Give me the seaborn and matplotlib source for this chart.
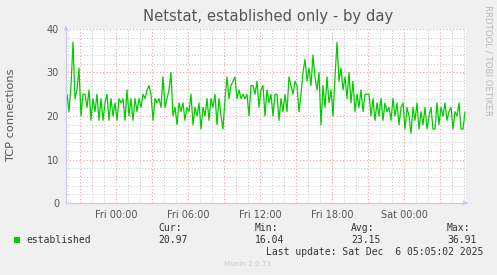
import numpy as np
import pandas as pd
import matplotlib
matplotlib.use("Agg")
import matplotlib.pyplot as plt
import matplotlib.dates as mdates
import seaborn as sns

# ---- data ----
start_time = "2025-12-04 19:55"
step_minutes = 10
established = [
    25, 21, 27, 37, 24, 26, 31, 20, 25, 25,
    22, 26, 19, 24, 21, 25, 19, 24, 19, 23,
    25, 19, 24, 20, 23, 19, 24, 23, 24, 19,
    26, 20, 24, 19, 24, 21, 24, 22, 25, 24,
    26, 27, 25, 19, 24, 23, 24, 22, 29, 22,
    24, 26, 30, 20, 22, 18, 23, 21, 23, 19,
    22, 21, 25, 18, 22, 20, 23, 17, 22, 20,
    24, 19, 24, 22, 25, 18, 24, 20, 17, 24,
    29, 24, 27, 28, 29, 24, 26, 24, 25, 24,
    25, 20, 27, 27, 25, 28, 22, 26, 27, 20,
    26, 23, 25, 20, 25, 25, 19, 24, 21, 25,
    21, 29, 27, 25, 28, 27, 21, 25, 30, 33,
    28, 31, 27, 34, 29, 26, 30, 18, 27, 22,
    29, 23, 26, 20, 29, 36.9, 28, 31, 26, 29,
    24, 30, 23, 28, 21, 25, 22, 26, 21, 25,
    25, 25, 20, 24, 19, 23, 20, 24, 19, 23,
    21, 22, 19, 24, 20, 23, 18, 22, 23, 17,
    22, 20, 16.04, 22, 19, 23, 17, 21, 18, 22,
    17, 20, 22, 17, 17, 23, 18, 22, 20, 23,
    19, 21, 22, 17, 21, 20, 23, 17, 17, 20.97,
]
series_label = "established"
title_text = "Netstat, established only - by day"
ylabel_text = "TCP connections"
stat_names = ["Cur:", "Min:", "Avg:", "Max:"]
stat_values = ["20.97", "16.04", "23.15", "36.91"]
last_update = "Last update: Sat Dec  6 05:05:02 2025"
footer = "Munin 2.0.73"
side_text = "RRDTOOL / TOBI OETIKER"

times = pd.date_range(start=start_time, periods=len(established), freq=f"{step_minutes}min")
df = pd.DataFrame({"time": times, "value": established})

sns.set_style("white")
plt.rcParams["font.family"] = ["DejaVu Sans"]

W, H = 497, 275
fig = plt.figure(figsize=(W / 100, H / 100), dpi=100, facecolor="#F0F0F0")
L, R, T, B = 66, 466, 29, 203
ax = fig.add_axes([L / W, 1 - B / H, (R - L) / W, (B - T) / H])
ax.set_facecolor("white")

sns.lineplot(data=df, x="time", y="value", ax=ax, color="#00CC00", linewidth=0.9)

x0 = pd.Timestamp("2025-12-04 19:50")
x1 = pd.Timestamp("2025-12-06 05:10")
ax.set_xlim(x0, x1)
ax.set_ylim(0, 40)

# grids
ax.xaxis.set_minor_locator(mdates.HourLocator())
ax.set_yticks(np.arange(0, 41, 2), minor=True)
ax.grid(which="minor", color="#c4c4c4", linestyle=(0, (1, 2)), linewidth=0.7)
ax.grid(which="major", color="#f0a0a0", linestyle=(0, (1, 2)), linewidth=0.8)
ax.set_axisbelow(True)

tick_times = pd.date_range("2025-12-04 21:00", "2025-12-06 03:00", freq="3h")
lbls = [t.strftime("%a %H:%M") if t.hour % 6 == 0 else "" for t in tick_times]
ax.set_xticks(mdates.date2num(tick_times))
ax.set_xticklabels(lbls)
ax.set_yticks([0, 10, 20, 30, 40])
ax.set_yticklabels(["0", "10", "20", "30", "40"])
ax.tick_params(axis="x", which="major", length=2, color="#f08080", labelsize=7, labelcolor="#555555", pad=3)
ax.tick_params(axis="x", which="minor", length=2, color="#bbbbbb")
ax.tick_params(axis="y", which="major", length=2, color="#f08080", labelsize=7, labelcolor="#555555", pad=3)
ax.tick_params(axis="y", which="minor", length=2, color="#bbbbbb")

for s in ["top", "right"]:
    ax.spines[s].set_visible(False)
for s in ["left", "bottom"]:
    ax.spines[s].set_color("#c8c8f0")
    ax.spines[s].set_linewidth(0.8)
ax.set_xlabel("")
ax.set_ylabel("")
ax.annotate("", xy=(1.012, 0), xytext=(0.995, 0), xycoords="axes fraction",
            arrowprops=dict(arrowstyle="-|>", color="#c8c8f0", lw=0.8, mutation_scale=6),
            annotation_clip=False)
ax.annotate("", xy=(0, 1.02), xytext=(0, 0.99), xycoords="axes fraction",
            arrowprops=dict(arrowstyle="-|>", color="#c8c8f0", lw=0.8, mutation_scale=6),
            annotation_clip=False)

def fx(px):
    return px / W

def fy(py):
    return 1 - py / H

fig.text(fx(268), fy(17), title_text, ha="center", va="center", fontsize=10.6, color="#555555")
fig.text(fx(11), fy(115), ylabel_text, ha="center", va="center", rotation=90, fontsize=8.2, color="#555555")
fig.text(fx(488), fy(5), side_text, ha="center", va="top", rotation=270, fontsize=6.2, color="#bbbbbb")

mono = "DejaVu Sans Mono"
fig.patches.append(plt.Rectangle((fx(14), fy(243)), 6 / W, 6 / H, transform=fig.transFigure,
                                 facecolor="#00CC00", edgecolor="none"))
fig.text(fx(26), fy(240), series_label, ha="left", va="center", fontsize=7, family=mono, color="#333333")
stat_x = [158, 255, 351, 447]
for sx, name, val in zip(stat_x, stat_names, stat_values):
    fig.text(fx(sx), fy(228), name, ha="left", va="center", fontsize=7, family=mono, color="#333333")
    fig.text(fx(sx), fy(240), val, ha="left", va="center", fontsize=7, family=mono, color="#333333")
fig.text(fx(483), fy(252), last_update, ha="right", va="center", fontsize=7, family=mono, color="#333333")
fig.text(fx(248), fy(264), footer, ha="center", va="center", fontsize=5.2, color="#c8c8c8")

fig.savefig("out.png", dpi=100, facecolor=fig.get_facecolor())
